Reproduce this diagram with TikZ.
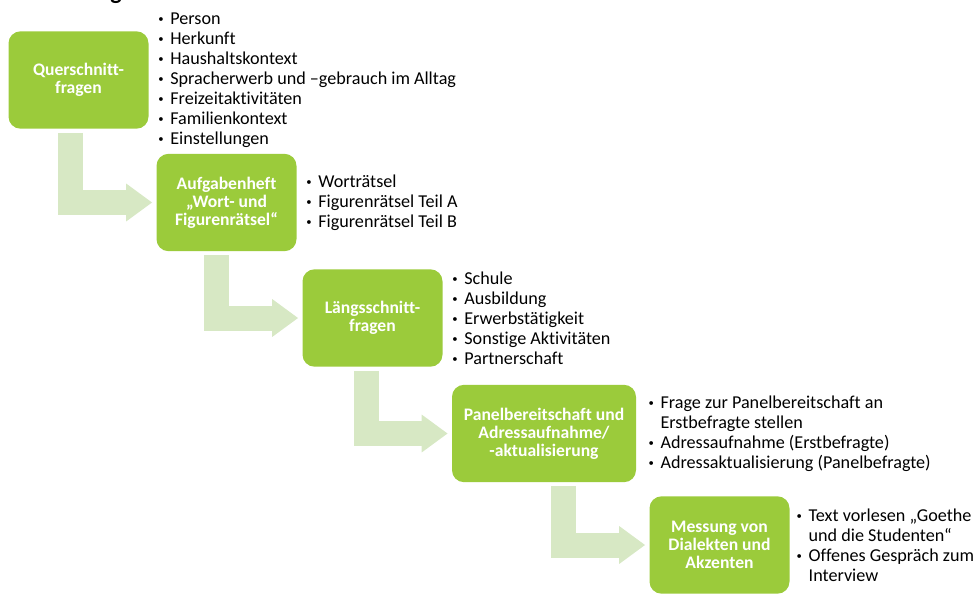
\documentclass[tikz,border=0pt]{standalone}
\usepackage{fontspec}
\setmainfont{Carlito}[Ligatures=NoCommon]
\usetikzlibrary{positioning,calc,arrows.meta}
\definecolor{boxgreen}{HTML}{9BCB3B}
\definecolor{flowgreen}{HTML}{D7E8C4}
\newcommand{\bul}{\makebox[9pt][l]{\raisebox{0.25ex}{\footnotesize\textbullet}}}
\newcommand{\ind}{\hspace*{9pt}}
\begin{document}
\begin{tikzpicture}[
  x=0.75pt, y=-0.75pt,
  stage/.style={fill=boxgreen, rounded corners=9pt, text=white, align=center,
    font=\bfseries\fontsize{13.2}{13.6}\selectfont, minimum width=105pt, minimum height=73pt, inner sep=2pt},
  items/.style={align=left, inner sep=0pt, anchor=west, font=\fontsize{13.6}{15}\selectfont},
  flow/.style={draw=flowgreen, line width=18.75pt, -{Triangle[width=27pt,length=19.5pt]}, shorten >=3pt}
]
\useasboundingbox (0,0) rectangle (975,593);
\node[font=\bfseries\fontsize{18}{20}\selectfont, anchor=base] (title) at (116,-1) {g};

\node[stage] (quer) at (78.5,80) {Querschnitt-\\fragen};
\node[stage] (heft) at (226.5,202.5) {Aufgabenheft\\„Wort- und\\Figurenrätsel“};
\node[stage] (laengs) at (372.5,318) {Längsschnitt-\\fragen};
\node[stage, minimum width=138pt] (panel) at (544,433.5) {Panelbereitschaft und\\Adressaufnahme/\\-aktualisierung};
\node[stage] (dialekt) at (719.5,545) {Messung von\\Dialekten und\\Akzenten};

\node[items, right=7pt of quer] (querlist) {\bul Person\\\bul Herkunft\\\bul Haushaltskontext\\\bul Spracherwerb und –gebrauch im Alltag\\\bul Freizeitaktivitäten\\\bul Familienkontext\\\bul Einstellungen};
\node[items, right=7pt of heft] (heftlist) {\bul Worträtsel\\\bul Figurenrätsel Teil A\\\bul Figurenrätsel Teil B};
\node[items, right=7pt of laengs] (laengslist) {\bul Schule\\\bul Ausbildung\\\bul Erwerbstätigkeit\\\bul Sonstige Aktivitäten\\\bul Partnerschaft};
\node[items, right=9pt of panel] (panellist) {\bul Frage zur Panelbereitschaft an\\\ind Erstbefragte stellen\\\bul Adressaufnahme (Erstbefragte)\\\bul Adressaktualisierung (Panelbefragte)};
\node[items, right=5pt of dialekt] (dialektlist) {\bul Text vorlesen „Goethe\\\ind und die Studenten“\\\bul Offenes Gespräch zum\\\ind Interview};

\draw[flow] ($(heft.west |- quer.south)+(-85.5,4)$) |- (heft.west);
\draw[flow] ($(laengs.west |- heft.south)+(-85.5,4)$) |- (laengs.west);
\draw[flow] ($(panel.west |- laengs.south)+(-85.5,4)$) |- (panel.west);
\draw[flow] ($(dialekt.west |- panel.south)+(-85.5,4)$) |- (dialekt.west);
\end{tikzpicture}
\end{document}
